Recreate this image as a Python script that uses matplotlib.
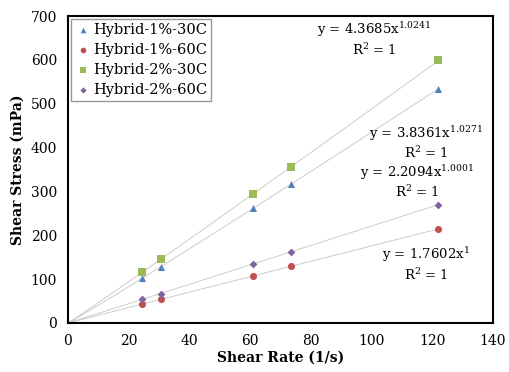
import numpy as np
import matplotlib
matplotlib.use("Agg")
import matplotlib.pyplot as plt

plt.rcParams["font.family"] = ["DejaVu Serif"]
plt.rcParams["mathtext.fontset"] = "dejavuserif"

# ------------------------------------------------------------
# DATA
# ------------------------------------------------------------
shear_rate = [24.5, 30.5, 61.0, 73.5, 122.0]
h1_30 = [102, 128, 262, 317, 533]
h1_60 = [43, 54, 107, 129, 215]
h2_30 = [116, 145, 294, 356, 599]
h2_60 = [54, 67, 135, 162, 270]

series_names = ["Hybrid-1%-30C", "Hybrid-1%-60C", "Hybrid-2%-30C", "Hybrid-2%-60C"]
series_values = [h1_30, h1_60, h2_30, h2_60]
series_colors = ["#4F81BD", "#C0504D", "#9BBB59", "#8064A2"]
series_markers = ["^", "o", "s", "D"]

eq_coef = ["3.8361", "1.7602", "4.3685", "2.2094"]
eq_exp = ["1.0271", "1", "1.0241", "1.0001"]
# label positions (data coords) for equation text
eq_pos = [(118, 433), (118, 155), (101, 668), (115, 344)]


def render():
    fig = plt.figure(figsize=(5.09, 3.72), dpi=100)
    ax = fig.add_axes([68 / 509, 1 - 323 / 372, 425 / 509, 307 / 372])

    xs = np.array(shear_rate)
    xfit = np.linspace(0.01, 122, 200)
    for name, vals, c, m in zip(series_names, series_values, series_colors, series_markers):
        vals = np.array(vals, dtype=float)
        b, a = np.polyfit(np.log(xs), np.log(vals), 1)
        ax.plot(np.r_[0, xfit], np.r_[0, np.exp(a) * xfit ** b],
                color="#b8b8b8", alpha=0.7, lw=0.7, zorder=1)
        ax.scatter(xs, vals, marker=m, color=c, s=26 if m != "D" else 16,
                   label=name, zorder=3, linewidths=0)

    for coef, ex, (px, py) in zip(eq_coef, eq_exp, eq_pos):
        ax.text(px, py, f"y = {coef}x$\\mathregular{{^{{{ex}}}}}$",
                ha="center", va="center", fontsize=9.5)
        ax.text(px, py - 45, "R$\\mathregular{^2}$ = 1",
                ha="center", va="center", fontsize=9.5)

    ax.set_xlim(0, 140)
    ax.set_ylim(0, 700)
    ax.set_xticks(range(0, 141, 20))
    ax.set_yticks(range(0, 701, 100))
    ax.tick_params(length=0, labelsize=10, pad=8)
    for s in ax.spines.values():
        s.set_linewidth(1.5)
        s.set_color("black")

    ax.set_xlabel("Shear Rate (1/s)", fontsize=10, weight="bold", labelpad=2)
    ax.set_ylabel("Shear Stress (mPa)", fontsize=10, weight="bold", labelpad=4)

    leg = ax.legend(loc="upper left", fontsize=10.5, frameon=True, fancybox=False,
                    borderaxespad=0.2, handletextpad=0.2, handlelength=1.0,
                    labelspacing=0.4, borderpad=0.3, markerscale=0.8)
    leg.get_frame().set_edgecolor("#808080")
    leg.get_frame().set_linewidth(1.0)

    fig.savefig("out.png", dpi=100, facecolor="white")
    plt.close(fig)


if __name__ == "__main__":
    render()
